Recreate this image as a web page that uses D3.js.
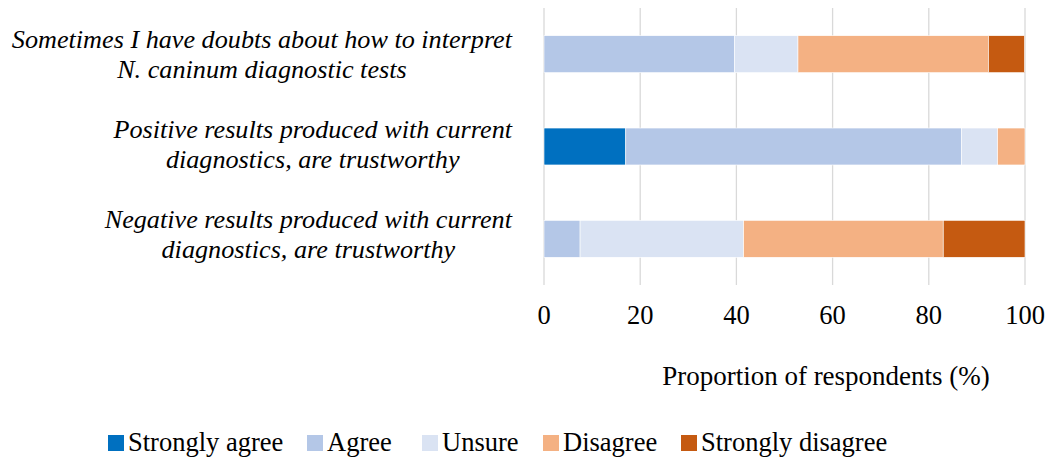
<!DOCTYPE html>
<html>
<head>
<meta charset="utf-8">
<script src="https://cdn.jsdelivr.net/npm/d3@7"></script>
<style>
  body { margin: 0; background: white; }
  text { font-family: "Liberation Serif", "Times New Roman", serif; fill: #000; }
</style>
</head>
<body>
<svg id="chart" width="1046" height="458"></svg>
<script>
// statements, top to bottom
const questions = [
    ["Sometimes I have doubts about how to interpret", "N. caninum diagnostic tests"],
    ["Positive results produced with current", "diagnostics, are trustworthy"],
    ["Negative results produced with current", "diagnostics, are trustworthy"]
];
const answerNames = ["Strongly agree", "Agree", "Unsure", "Disagree", "Strongly disagree"];
// % per answer, same order as answerNames
const doubtsVals   = [0, 39.6, 13.2, 39.6, 7.5];
const positiveVals = [17.0, 69.8, 7.5, 5.7, 0];
const negativeVals = [0, 7.5, 34.0, 41.5, 17.0];
const xTicks = [0, 20, 40, 60, 80, 100];
const answerColors = ["#0070C0", "#B4C7E7", "#DAE3F3", "#F4B183", "#C55A11"];

const allVals = [doubtsVals, positiveVals, negativeVals];

const svg = d3.select("#chart");

const x = d3.scaleLinear().domain([0, 100]).range([544, 1025]);
const y = d3.scaleBand().domain(d3.range(questions.length)).range([8, 285])
    .paddingInner(0.6).paddingOuter(0.3);
// first-line baselines of the labels
const yLabel = d3.scalePoint().domain(d3.range(questions.length)).range([48, 228]);
const color = d3.scaleOrdinal().domain(answerNames).range(answerColors);

// gridlines
svg.append("g").selectAll("line").data(xTicks).join("line")
    .attr("x1", d => x(d)).attr("x2", d => x(d))
    .attr("y1", 8).attr("y2", 285)
    .attr("stroke", "#D9D9D9").attr("stroke-width", 1.3);

// stacked bars
const rows = allVals.map((vals, i) => {
    const r = { idx: i };
    answerNames.forEach((n, k) => r[n] = vals[k]);
    return r;
});
const series = d3.stack().keys(answerNames)(rows);

svg.append("g").selectAll("g").data(series).join("g")
    .attr("fill", d => color(d.key))
    .selectAll("rect").data(d => d.filter(s => s[1] > s[0])).join("rect")
    .attr("x", d => x(d[0]))
    .attr("width", d => x(d[1]) - x(d[0]))
    .attr("y", d => y(d.data.idx))
    .attr("height", y.bandwidth())
    .attr("stroke", "white").attr("stroke-width", 0.6);

// tick labels
svg.append("g").selectAll("text").data(xTicks).join("text")
    .attr("x", d => x(d)).attr("y", 324)
    .attr("text-anchor", "middle")
    .attr("font-size", 26.5)
    .text(d => d);

// category labels, centred lines, widest line ends at 512
questions.forEach((lines, i) => {
    const t = svg.append("g").selectAll("text").data(lines).join("text")
        .attr("y", (d, k) => yLabel(i) + k * 30)
        .attr("font-size", 26.2)
        .attr("font-style", "italic")
        .attr("text-anchor", "middle")
        .text(d => d);
    let maxW = 0;
    t.each(function() { maxW = Math.max(maxW, this.getComputedTextLength()); });
    t.attr("x", 512 - maxW / 2);
});

// axis title
svg.append("text")
    .attr("x", 826).attr("y", 385)
    .attr("text-anchor", "middle")
    .attr("font-size", 27)
    .text("Proportion of respondents (%)");

// legend
const legendX = [108, 307, 422, 543, 681];
const leg = svg.append("g").selectAll("g").data(answerNames).join("g")
    .attr("transform", (d, i) => `translate(${legendX[i]},435)`);
leg.append("rect").attr("width", 16).attr("height", 16).attr("fill", d => color(d));
leg.append("text").attr("x", 20).attr("y", 16)
    .attr("font-size", 26.5)
    .text(d => d);
</script>
</body>
</html>
